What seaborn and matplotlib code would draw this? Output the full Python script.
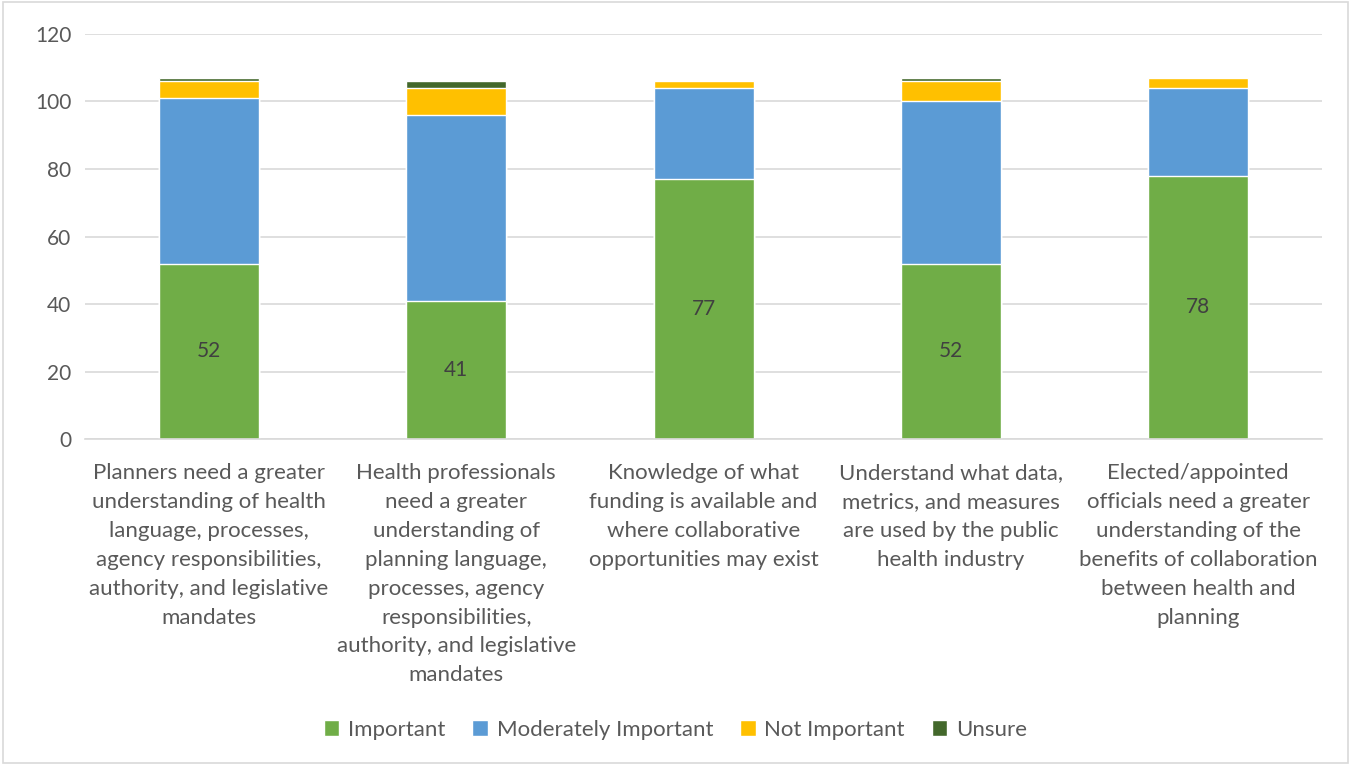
import matplotlib
matplotlib.use("Agg")
import matplotlib.pyplot as plt
import pandas as pd
import seaborn as sns
from matplotlib.patches import Rectangle, Patch

# dados
categorias = [
    "Planners need a greater\nunderstanding of health\nlanguage, processes,\nagency responsibilities,\nauthority, and legislative\nmandates",
    "Health professionals\nneed a greater\nunderstanding of\nplanning language,\nprocesses, agency\nresponsibilities,\nauthority, and legislative\nmandates",
    "Knowledge of what\nfunding is available and\nwhere collaborative\nopportunities may exist",
    "Understand what data,\nmetrics, and measures\nare used by the public\nhealth industry",
    "Elected/appointed\nofficials need a greater\nunderstanding of the\nbenefits of collaboration\nbetween health and\nplanning",
]
important = [52, 41, 77, 52, 78]
moderately = [49, 55, 27, 48, 26]
not_important = [5, 8, 2, 6, 3]
unsure = [1, 2, 0, 1, 0]

series = ["Important", "Moderately Important", "Not Important", "Unsure"]
cores = ["#70ad47", "#5b9bd5", "#ffc000", "#43682b"]

sns.set_style("white")
plt.rcParams["font.family"] = ["Lato", "DejaVu Sans"]

df = pd.DataFrame({
    "cat": categorias,
    "Important": important,
    "Moderately Important": moderately,
    "Not Important": not_important,
    "Unsure": unsure,
})
# acumulados para empilhar
acum = df[series].cumsum(axis=1)

fig = plt.figure(figsize=(13.51, 7.65), dpi=100)
ax = fig.add_axes([0.063, 0.426, 0.9155, 0.5296])

# desenha do topo para a base (sobreposição)
for s, c in reversed(list(zip(series, cores))):
    sns.barplot(x=df["cat"], y=acum[s], color=c, width=0.404, ax=ax,
                saturation=1, zorder=2)

# rótulos só na série Important
for i, v in enumerate(important):
    ax.text(i, v / 2, str(v), ha="center", va="center", fontsize=15, color="#404040", zorder=3)

ax.set_ylim(0, 120)
ax.set_yticks(range(0, 121, 20))
ax.set_xlim(-0.5, len(categorias) - 0.5)
ax.yaxis.grid(True, color="#d9d9d9", linewidth=1.2, zorder=0)
ax.set_axisbelow(True)
ax.set_xlabel("")
ax.set_ylabel("")
for sp in ["top", "right", "left"]:
    ax.spines[sp].set_visible(False)
ax.spines["bottom"].set_color("#d9d9d9")
ax.spines["bottom"].set_linewidth(1.2)
ax.tick_params(axis="y", length=0, labelsize=15, colors="#595959", pad=10)
ax.tick_params(axis="x", length=0, labelsize=16, colors="#595959", pad=17)
plt.setp(ax.get_xticklabels(), linespacing=1.56, va="top")

handles = [Patch(facecolor=c, label=s) for s, c in zip(series, cores)]
fig.legend(handles=handles, loc="center", bbox_to_anchor=(0.5, 0.046), ncol=4,
           frameon=False, fontsize=16, labelcolor="#595959",
           handlelength=0.7, handleheight=0.7, handletextpad=0.4, columnspacing=1.2)

fig.patches.append(Rectangle((0.002, 0.003), 0.996, 0.994, transform=fig.transFigure,
                             fill=False, edgecolor="#d9d9d9", linewidth=1.2))

fig.savefig("out.png", dpi=100)
